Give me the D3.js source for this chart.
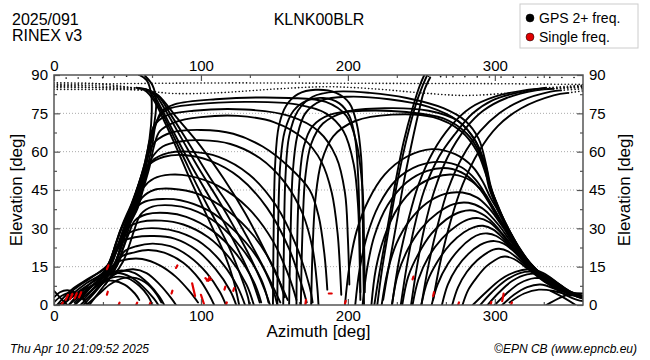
<!DOCTYPE html>
<html><head><meta charset="utf-8">
<script src="https://cdn.jsdelivr.net/npm/d3@7"></script>
<style>
body{margin:0;background:#fff}
svg{display:block;font-family:"Liberation Sans",Arial,Helvetica,sans-serif}
</style>
</head><body>
<svg id="chart" width="650" height="360"></svg>
<script>
// ---------------- data (azimuth deg, elevation deg) ----------------
const azimuthMajorTicks = [0, 100, 200, 300];
const azimuthMinorTicks = [33.3, 66.7, 133.3, 166.7, 233.3, 266.7, 333.3];
const elevationMajorTicks = [0, 15, 30, 45, 60, 75, 90];
const elevationMinorTicks = [7.5, 22.5, 37.5, 52.5, 67.5, 82.5];
const gridElevations = [15, 30, 45, 60, 75];

const leftLowArcs = [
  [[0,3],[4,5],[9,5.8],[15,4.8],[20,2.2],[23,0]],
  [[0,1],[5,3.5],[11,4.8],[17,3.8],[22,1]],
  [[0,5.5],[4,3],[9,0]],
  [[6,0],[15,4.5],[25,8.5],[35,11.5],[43,12.5],[52,11],[60,7.5],[68,2.5],[71,0]],
  [[10,0],[20,5],[30,9.5],[38,12.5],[46,13.5],[55,12.5],[64,8.5],[72,3],[75,0]],
  [[14,0],[24,5],[33,9],[42,11],[50,10.5],[58,7.5],[64,3.5],[67,0]],
  [[18,0],[27,5],[36,10],[45,13],[54,14],[63,12.5],[72,8],[80,2.5],[83,0]],
  [[3,0],[12,3],[22,6.5],[32,9],[40,9.5],[48,8],[55,4.5],[58,2]],
  [[22,0],[30,4],[38,8],[47,10.5],[56,10.5],[64,8],[70,4],[73,1]]
];

const leftMidArcs = [
  [[14,0],[22,5],[30,9.5],[37,13.5],[42,16.5],[51,18],[60,18],[72,15.5],[83,11],[92,5.5],[98,1]],
  [[20,0],[28,5],[35,10],[41,15],[46,19],[54,20.5],[64,21.5],[75,20.5],[88,16.5],[99,10],[106,3.5],[109,0]],
  [[24,0],[32,6],[39,11.5],[44,17],[48,21],[56,23],[67,24],[79,23],[92,19],[104,12.5],[113,5],[117,0]],
  [[4,0],[12,4],[22,8.5],[32,12],[38,16],[41,21],[45,24.5],[55,26.5],[68,27],[82,26],[97,21.5],[110,14],[120,5.5],[124,0]],
  [[10,0],[18,5],[27,9.5],[35,13],[40,18],[45,23.5],[48,27],[57,29.5],[71,30],[85,28.5],[101,24],[115,16],[125,7],[130,0]],
  [[14,1],[23,6],[32,10.5],[39,14],[44,20],[47,25],[50,30],[59,32.5],[73,33],[88,31.5],[105,26.5],[120,18],[131,8],[136,0]],
  [[20,2],[29,7.5],[37,11.5],[43,15.5],[47,22],[51,28],[55,33],[63,35.5],[77,36],[90,34.5],[108,29],[124,20],[136,9],[141,1]],
  [[24,3],[33,8.5],[41,12],[47,17],[51,23],[55,30],[59,35.5],[67,38.5],[80,39],[93,37.5],[111,32],[128,22],[141,10],[146,1]],
  [[38,15],[42,21],[46,27],[50,32],[54,37],[62,40.5],[74,41.5],[86,41],[105,37],[123,29],[139,18],[149,6],[152,0]],
  [[42,16],[46,23],[50,30],[55,36],[60,42],[68,45],[80,45.5],[98,43.5],[118,37],[136,27],[150,14],[157,3]],
  [[43,18],[47,26],[51,33],[56,39],[61,46],[68,49.5],[79,51],[92,50.5],[112,46.5],[132,38],[149,25],[160,11],[165,2]],
  [[43,22],[47,29],[51,35],[56,42],[60,49],[65,55],[75,58],[88,58.7],[106,56.5],[126,50],[145,38],[160,22],[169,7],[172,1]],
  [[45,24],[49,31],[54,37],[58,44],[62,51],[67,56.5],[78,59.5],[92,60],[112,58],[133,51],[151,39],[165,23],[174,7],[176,1]]
];

const leftHighArcs = [
  [[26,4],[35,11],[41,15.5],[45,22],[49,29],[53,35],[58,42],[62,50],[66,57],[74,62],[86,64],[100,64.5],[120,63],[140,57.5],[157,48],[169,36],[176,22],[179,8],[180,0]],
  [[26,6],[35,12],[40,17],[44,24],[48,31],[52,37],[57,44],[61,52],[64,59],[69,64],[80,67.5],[100,68.5],[122,67],[142,62],[160,54],[174,45],[180,35],[184,20],[186,6]],
  [[35,8],[41,13.5],[45,19],[49,26],[52,32],[57,38],[61,46],[65,54],[68,62],[72,68],[82,71.5],[100,73.5],[125,74],[150,71.5],[170,65],[182,56],[189,44],[193,28],[195,10],[195.5,4]],
  [[32,11],[37,16],[41,22],[45,29],[49,34],[54,41],[58,48],[62,56],[65,64],[68,70],[76,74],[95,76],[130,76.5],[160,74],[180,68],[192,58],[198,44],[200,26],[201,8]],
  [[36,13],[40,18],[44,24],[48,30],[52,35.5],[57,42.5],[61,50],[64,58],[67,66],[70,72],[77,76.5],[96,78.5],[130,79.5],[165,78.5],[185,75],[197,68],[204,55],[207,38],[208,18],[208.5,2]],
  [[40,14],[44,20],[48,27],[52,33],[57,39],[61,47],[64,55],[67,63],[69,70],[73,75.5],[82,78.5],[110,80.5],[160,81],[185,79.5],[199,74],[206,63],[210,45],[211,25],[211.5,5]]
];

const leftDescending = [
  [[56,85],[62,84],[68,80],[75,72],[83,62],[92,50],[100,40],[108,30],[116,20],[122,10],[126,0]],
  [[58,84.8],[64,84],[70,79],[78,70],[88,58],[98,46],[108,35],[118,24],[126,13],[132,3],[133,0]],
  [[60,84.5],[66,83.5],[73,77],[82,67],[93,55],[104,44],[115,33],[125,22],[134,11],[140,1]],
  [[62,84.2],[68,83],[76,76],[87,65],[99,53],[112,41],[124,29],[135,17],[144,5],[147,0]],
  [[64,84],[70,82.5],[80,74],[92,63],[106,50],[120,38],[133,25],[145,12],[154,1]],
  [[65,83.6],[71,82],[84,73],[100,62],[116,49],[130,36],[142,23],[152,11],[159,2]]
];

const leftZenith = [
  [[2,0],[12,6],[24,10.5],[36,15],[41,22],[46,30],[52,38],[57,46],[61,53],[65,62],[68.5,72],[69.5,80],[67,86],[62,89.6]],
  [[5,0],[14,6.2],[26,11],[37,16],[42,24],[47,32],[53,40],[58,48],[62,56],[65,65],[66.5,75],[66,83],[63,88],[58,90]]
];

const centerArcs = [
  [[149,0],[149.5,30],[150.5,55],[153,70],[158,78],[166,82.5],[178,84.2],[192,83],[201,79],[206,71],[209,58],[210,40],[210.5,15],[211,0]],
  [[152,0],[152.5,30],[154,55],[157,68],[163,76],[172,80],[183,81],[194,79],[201,74],[205,65],[207,50],[208,30],[208.5,5]]
];

const rightHighArcs = [
  [[156,0],[156.5,25],[157.5,50],[160,66],[166,76],[176,81.5],[192,83.5],[215,83],[240,81],[265,77],[280,72],[289,65],[294,55],[297,47],[301,40],[306,33],[313,25],[320,18.5],[330,12],[342,7],[355,4],[360,3.5]],
  [[160,0],[161,28],[162.5,52],[165.5,66],[171,75],[182,80],[200,81.5],[228,80.5],[255,77.5],[275,72],[287,64],[293,54],[296,46],[300,40],[305,34],[312,26],[320,19],[330,12.5],[343,7],[352,4]],
  [[165,0],[165.5,25],[167,48],[170,62],[176,70],[188,74.5],[210,76],[240,75.5],[265,73],[281,67],[290,59],[295,50],[299,43],[304,36],[311,28],[319,20],[328,14],[340,8],[350,5]],
  [[168,0],[169,27],[171,50],[175,63],[183,71],[198,75.5],[225,77],[255,76],[275,72],[287,64],[294,54],[297,46],[302,39],[308,31],[316,23],[326,15],[338,9],[350,5.5],[360,3.5]],
  [[175,0],[176,22],[178,42],[182,56],[190,66],[205,72],[230,74.5],[258,73.5],[277,68],[288,60],[294,51],[298,44],[303,37],[310,29],[318,21],[328,14],[342,8]]
];

const rightMidArcs = [
  [[198,0],[201,15],[206,29],[214,41],[225,51],[240,58],[257,61],[273,59],[285,54],[292,48],[297,42],[302,37],[308,30],[316,22],[326,15],[338,9],[350,5]],
  [[205,0],[208,14],[213,27],[221,39],[233,49],[248,54.5],[263,56],[277,54],[287,49],[294,43],[299,38],[304,33],[311,26],[319,19],[330,12.5],[342,7]],
  [[210,0],[213,14],[218,27],[227,39],[240,48],[254,52.5],[268,53.5],[280,51],[289,46],[295,41],[300,36],[306,31],[314,23],[323,16],[334,10]],
  [[216,0],[219,14],[225,27],[234,38],[246,46],[259,50],[272,51],[284,48.5],[292,44],[298,39],[303,34],[309,28],[317,21],[327,14],[338,8.5],[348,5]],
  [[223,0],[227,13],[233,24],[242,33],[254,40],[266,43.5],[278,44],[288,42],[295,38.5],[300,35],[306,30],[313,24],[321,18],[331,12],[343,7]],
  [[230,0],[234,12],[241,22],[250,30],[261,36],[272,39.5],[282,40],[291,38],[297,35],[303,31],[310,25.5],[318,19.5],[328,13],[340,8]],
  [[237,0],[241,11],[248,20],[257,28],[267,33.5],[277,36.5],[285,37],[293,35],[299,32],[305,28],[312,23],[320,17.5],[330,12],[342,7]],
  [[244,0],[248,10],[255,19],[264,26],[274,31],[282,33.5],[289,34],[296,32.5],[302,29.5],[308,25.5],[315,20.5],[324,15],[334,10],[346,6]],
  [[250,0],[254,9],[261,17],[270,24],[279,28.5],[286,30.5],[292,31],[299,29.5],[305,26.5],[312,22],[320,17],[330,11.5],[342,7]],
  [[257,0],[261,8],[268,16],[276,22],[284,26],[290,27.7],[295,28],[301,27],[307,24.5],[314,20.5],[322,15.5],[332,10.5],[344,6]],
  [[264,0],[268,8],[274,14.5],[282,20],[290,23.5],[295,24.7],[300,25],[306,24],[312,21.5],[319,17.5],[327,13],[337,8.5],[348,5]],
  [[271,0],[275,7],[281,13],[288,17.5],[295,20.5],[299,21.7],[303,22],[309,21],[315,18.5],[322,15],[330,11],[340,7],[350,4.5]],
  [[278,0],[282,6],[288,11],[294,15],[300,17.5],[304,18.7],[307,19],[313,18],[319,15.7],[326,12.5],[334,9],[344,6],[354,4]]
];

const rightLowArcs = [
  [[290,0],[298,5],[307,9.5],[317,12.5],[326,13],[336,11],[345,7.5],[353,4],[360,2.5]],
  [[295,0],[303,5],[312,9.5],[322,12],[331,12],[340,9.5],[349,6],[357,3.5],[360,3]],
  [[300,0],[308,4.5],[317,8.5],[327,10.5],[336,10],[345,7],[353,4],[360,2.5]],
  [[285,0],[294,5],[304,10],[314,13],[323,14],[333,12.5],[343,8.5],[352,5],[360,3.5]],
  [[305,0],[313,4],[322,7],[331,8],[340,6.5],[348,4],[356,2],[360,1.5]],
  [[310,1],[320,4.5],[330,6],[340,5.5],[350,4],[360,3.5]],
  [[335,0],[345,3],[352,4.5],[360,4.5]],
  [[338,5.5],[348,2.5],[355,0]]
];

const rightAscending = [
  [[236,0],[240,15],[245,30],[252,45],[262,58],[273,67],[285,75],[298,80],[315,83],[335,85]],
  [[230,0],[235,18],[241,33],[248,47],[258,60],[270,70],[283,77],[300,81.5],[320,84],[335,84.8]],
  [[243,0],[247,15],[252,30],[259,45],[268,58],[280,69],[292,76],[308,81],[328,84],[340,84.6]],
  [[250,0],[255,16],[261,31],[268,45],[278,58],[290,68],[303,75],[318,80],[338,83.5],[345,84]],
  [[258,2],[263,17],[270,33],[278,47],[289,60],[302,70],[318,77],[340,82],[350,83]]
];

const rightZenith = [
  [[254,90],[251,86],[246,78],[240,65],[235,52],[231,40],[227,27],[223,13],[220,0]],
  [[252,90],[249,86],[244,77],[238,64],[233,50],[229,37],[225,24],[221,11],[218,0]],
  [[256,89],[252,84],[248,75],[243,62],[238,48],[234,35],[230,22],[226,9],[224,2]]
];

const dottedPasses = [
  [[0,86.3],[60,86.7],[120,86.9],[180,86.8],[240,86.7],[300,86.6],[360,86.3]],
  [[0,85.5],[35,85],[60,84],[80,82.8],[110,83],[150,84.5],[186,85.4],[220,84.5],[250,83],[280,82],[310,83],[335,84.5],[360,85.5]],
  [[0,85.8],[25,85.8],[56,85]],
  [[0,85],[28,85],[58,84.8]],
  [[0,86.9],[30,86.6],[60,84.5]],
  [[0,84.3],[32,84.3],[62,84.2]],
  [[335,85],[350,85.6],[360,86]],
  [[335,84.8],[350,85.2],[360,85.6]],
  [[340,84.6],[352,84.9],[360,85.2]],
  [[345,84],[355,84.4],[360,84.6]],
  [[350,83],[360,83.8]]
];

const sparseZenithPasses = [
  [[0,88.8],[35,89],[58,90]],
  [[255,89.4],[300,89.2],[360,89]]
];

const singleFreqMarks = [
  [[5,0],[6,1]], [[8,2],[9.5,4]], [[11,2.3],[12.5,4.3]], [[14,2.6],[15.5,4.6]], [[17,3],[18.5,5]],
  [[36,14],[37,15.5]], [[36,4],[36.6,5.2]], [[44,0],[44.6,0.9]], [[56,0],[56.6,0.9]], [[65,0],[65.6,0.9]],
  [[80,4.5],[80.6,5.6]], [[83,14.5],[84,15.5]], [[94,8.5],[96,3.5]], [[100,4],[102,0.5]],
  [[103,10.5],[105,9.5]], [[104,9.5],[107,10]], [[105,10],[106,11]], [[116,6],[116.6,7.2]],
  [[117,0],[117.6,1]], [[122,5.5],[122.6,6.6]], [[171,0],[171.5,2]], [[187,4.5],[189,4.5]],
  [[198,0.5],[198.5,1.6]], [[244,10],[244.6,11.1]], [[258,3.5],[258.6,5]], [[275,0],[275.6,1]],
  [[297,0],[297.6,1.2]], [[305,1.5],[306,4.5]], [[311,0],[311.6,1]]
];

const legendLabels = ["GPS 2+ freq.", "Single freq."];
const legendColors = ["#000000", "#e00000"];

// ---------------- drawing ----------------
const svg = d3.select("#chart");
const x = d3.scaleLinear().domain([0, 360]).range([54, 583]);
const y = d3.scaleLinear().domain([0, 90]).range([305, 75]);

svg.append("rect").attr("width", 650).attr("height", 360).attr("fill", "#fff");

svg.append("defs").append("clipPath").attr("id", "plotclip")
  .append("rect").attr("x", x(0)).attr("y", y(90)).attr("width", x(360) - x(0)).attr("height", y(0) - y(90));

svg.append("g").selectAll("line").data(gridElevations).join("line")
  .attr("x1", x(0)).attr("x2", x(360)).attr("y1", d => y(d)).attr("y2", d => y(d))
  .attr("stroke", "#aaa").attr("stroke-width", 1).attr("stroke-dasharray", "1,2");

const line = d3.line().x(d => x(d[0])).y(d => y(d[1])).curve(d3.curveCatmullRom.alpha(0.5));
const plot = svg.append("g").attr("clip-path", "url(#plotclip)");

const solidGroups = [leftLowArcs, leftMidArcs, leftHighArcs, leftDescending, leftZenith, centerArcs,
  rightHighArcs, rightMidArcs, rightLowArcs, rightAscending, rightZenith];
solidGroups.forEach(group => {
  plot.append("g").selectAll("path").data(group).join("path")
    .attr("d", line).attr("fill", "none").attr("stroke", "#000")
    .attr("stroke-width", 1.9).attr("stroke-linecap", "round").attr("stroke-linejoin", "round");
});

plot.append("g").selectAll("path").data(dottedPasses).join("path")
  .attr("d", line).attr("fill", "none").attr("stroke", "#111")
  .attr("stroke-width", 1.6).attr("stroke-linecap", "round").attr("stroke-dasharray", "0.1,3.4");

plot.append("g").selectAll("path").data(sparseZenithPasses).join("path")
  .attr("d", line).attr("fill", "none").attr("stroke", "#111")
  .attr("stroke-width", 1.6).attr("stroke-linecap", "round").attr("stroke-dasharray", "0.1,12");

plot.append("g").selectAll("path").data(singleFreqMarks).join("path")
  .attr("d", line).attr("fill", "none").attr("stroke", "#e00000")
  .attr("stroke-width", 2.2).attr("stroke-linecap", "round");

svg.append("rect").attr("x", x(0)).attr("y", y(90)).attr("width", x(360) - x(0)).attr("height", y(0) - y(90))
  .attr("fill", "none").attr("stroke", "#555").attr("stroke-width", 1.5);

function styleAxis(g) {
  g.select(".domain").remove();
  g.selectAll(".tick line").attr("stroke", "#555").attr("stroke-width", 1.2);
  g.selectAll(".tick text").attr("fill", "#000").attr("font-size", 15)
    .attr("font-family", '"Liberation Sans",Arial,sans-serif');
}

svg.append("g").attr("transform", `translate(0,${y(0)})`)
  .call(d3.axisBottom(x).tickValues(azimuthMajorTicks).tickSize(-6).tickPadding(5).tickFormat(d3.format("d"))).call(styleAxis);
svg.append("g").attr("transform", `translate(0,${y(0)})`)
  .call(d3.axisBottom(x).tickValues(azimuthMinorTicks).tickSize(-3).tickFormat("")).call(styleAxis);
svg.append("g").attr("transform", `translate(0,${y(90)})`)
  .call(d3.axisTop(x).tickValues(azimuthMajorTicks).tickSize(-6).tickPadding(4).tickFormat(d3.format("d"))).call(styleAxis);
svg.append("g").attr("transform", `translate(0,${y(90)})`)
  .call(d3.axisTop(x).tickValues(azimuthMinorTicks).tickSize(-3).tickFormat("")).call(styleAxis);
svg.append("g").attr("transform", `translate(${x(0)},0)`)
  .call(d3.axisLeft(y).tickValues(elevationMajorTicks).tickSize(-6).tickPadding(6)).call(styleAxis);
svg.append("g").attr("transform", `translate(${x(0)},0)`)
  .call(d3.axisLeft(y).tickValues(elevationMinorTicks).tickSize(-3).tickFormat("")).call(styleAxis);
svg.append("g").attr("transform", `translate(${x(360)},0)`)
  .call(d3.axisRight(y).tickValues(elevationMajorTicks).tickSize(-6).tickPadding(6)).call(styleAxis);
svg.append("g").attr("transform", `translate(${x(360)},0)`)
  .call(d3.axisRight(y).tickValues(elevationMinorTicks).tickSize(-3).tickFormat("")).call(styleAxis);

svg.append("text").attr("x", (x(0) + x(360)) / 2).attr("y", 337).attr("text-anchor", "middle")
  .attr("font-size", 17).text("Azimuth [deg]");
svg.append("text").attr("transform", `translate(22,${(y(0) + y(90)) / 2}) rotate(-90)`)
  .attr("text-anchor", "middle").attr("font-size", 17).text("Elevation [deg]");
svg.append("text").attr("transform", `translate(630,${(y(0) + y(90)) / 2}) rotate(-90)`)
  .attr("text-anchor", "middle").attr("font-size", 17).text("Elevation [deg]");

svg.append("text").attr("x", 12).attr("y", 25).attr("font-size", 16).text("2025/091");
svg.append("text").attr("x", 12).attr("y", 41).attr("font-size", 16).text("RINEX v3");
svg.append("text").attr("x", 319).attr("y", 25).attr("text-anchor", "middle").attr("font-size", 16).text("KLNK00BLR");

svg.append("rect").attr("x", 520).attr("y", 4).attr("width", 118).attr("height", 44)
  .attr("fill", "#fff").attr("stroke", "#ccc").attr("stroke-width", 1);
const lg = svg.append("g").selectAll("g").data(legendLabels).join("g")
  .attr("transform", (d, i) => `translate(530,${18 + i * 19})`);
lg.append("circle").attr("r", 4).attr("fill", (d, i) => legendColors[i]).attr("stroke", "#000").attr("stroke-width", 0.5);
lg.append("text").attr("x", 9).attr("y", 5).attr("font-size", 14).text(d => d);

svg.append("text").attr("x", 10).attr("y", 353).attr("font-size", 12).attr("font-style", "italic")
  .text("Thu Apr 10 21:09:52 2025");
svg.append("text").attr("x", 637).attr("y", 353).attr("text-anchor", "end").attr("font-size", 12)
  .attr("font-style", "italic").text("©EPN CB (www.epncb.eu)");
</script>
</body></html>
